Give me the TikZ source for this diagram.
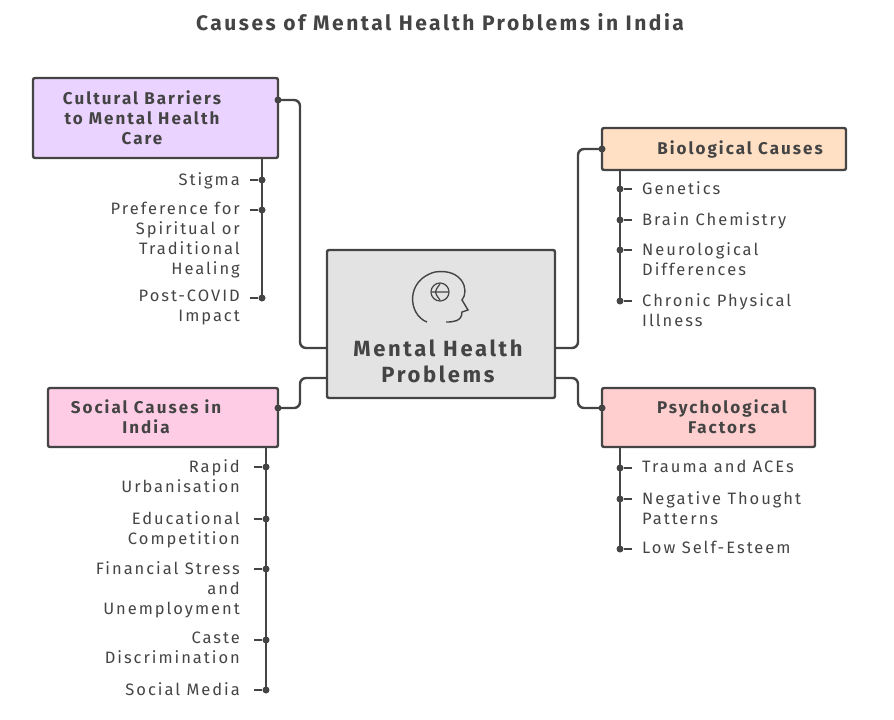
\documentclass[tikz,border=0pt]{standalone}
\usepackage{fontspec}
\setmainfont[LetterSpace=12]{Fira Sans}
\usetikzlibrary{positioning}

\definecolor{inkgray}{HTML}{444444}
\definecolor{centerfill}{HTML}{E3E3E3}
\definecolor{culturefill}{HTML}{EBD3FF}
\definecolor{biofill}{HTML}{FFE0C4}
\definecolor{socialfill}{HTML}{FFCCE6}
\definecolor{psychfill}{HTML}{FFCFCF}

\tikzset{
  catbox/.style={draw=inkgray, line width=2.4pt, rounded corners=2pt, align=center,
    font=\fontsize{17}{20}\selectfont\bfseries, text=inkgray},
  itemleft/.style={anchor=east, align=right, inner sep=0pt, font=\fontsize{16.5}{20}\selectfont, text=inkgray},
  itemright/.style={anchor=west, align=left, inner sep=0pt, font=\fontsize{16.5}{20}\selectfont, text=inkgray},
  link/.style={draw=inkgray, line width=2.4pt, rounded corners=6pt},
  stem/.style={draw=inkgray, line width=2pt},
  dot/.style={circle, fill=inkgray, inner sep=0pt, minimum size=7pt},
}

\begin{document}
\begin{tikzpicture}[x=1pt, y=-1pt]
\useasboundingbox (0,0) rectangle (894,720);

% title
\node[font=\fontsize{21}{24}\selectfont\bfseries, text=inkgray] (title) at (440,22)
  {Causes of Mental Health Problems in India};

% centre
\draw[catbox, fill=centerfill] (327,250) rectangle (555,398);
\node[catbox, draw=none, font=\fontsize{22}{26}\selectfont\bfseries] (center) at (438,361)
  {Mental Health\\Problems};
\draw[inkgray, line width=1.4pt] (427,322) .. controls (408,315) and (405,280) .. (435,272)
  .. controls (462,268) and (470,290) .. (462,300) -- (468,310) -- (462,312)
  .. controls (462,322) and (452,322) .. (446,322);
\draw[inkgray, line width=1.2pt] (440,292) circle (9);
\draw[inkgray, line width=1.2pt] (432,292) -- (448,292) (440,284) .. controls (434,292) .. (440,300);

% cultural barriers
\draw[catbox, fill=culturefill] (33,78) rectangle (278,158);
\node[catbox, draw=none] (culture) at (142,118) {Cultural Barriers\\to Mental Health\\Care};
\coordinate (cultureport) at (278,100);
\node[dot] at (cultureport) {};
\draw[link] (cultureport) -- (300,100) -- (300,348) -- (327,348);
\draw[stem] (262,158) -- (262,298);
\foreach \y/\txt [count=\i] in {180/Stigma, 210/Preference for\\Spiritual or\\Traditional\\Healing, 298/Post-COVID\\Impact}{
  \node[dot] (cdot\i) at (262,\y) {};
  \node[itemleft, anchor=north east] (citem\i) at (240,\y-8) {\txt};
  \draw[stem] (cdot\i) -- (250,\y);
}

% biological causes
\draw[catbox, fill=biofill] (602,128) rectangle (846,170);
\node[catbox, draw=none] (bio) at (740,149) {Biological Causes};
\coordinate (bioport) at (602,149);
\node[dot] at (bioport) {};
\draw[link] (bioport) -- (578,149) -- (578,348) -- (555,348);
\draw[stem] (620,170) -- (620,301);
\foreach \y/\txt [count=\i] in {189/Genetics, 220/Brain Chemistry, 250/Neurological\\Differences, 301/Chronic Physical\\Illness}{
  \node[dot] (bdot\i) at (620,\y) {};
  \node[itemright, anchor=north west] (bitem\i) at (642,\y-8) {\txt};
  \draw[stem] (bdot\i) -- (632,\y);
}

% social causes
\draw[catbox, fill=socialfill] (48,388) rectangle (278,447);
\node[catbox, draw=none] (social) at (146,417) {Social Causes in\\India};
\coordinate (socialport) at (278,408);
\node[dot] at (socialport) {};
\draw[link] (socialport) -- (300,408) -- (300,378) -- (327,378);
\draw[stem] (266,447) -- (266,690);
\foreach \y/\txt [count=\i] in {467/Rapid\\Urbanisation, 519/Educational\\Competition, 569/Financial Stress\\and\\Unemployment, 640/Caste\\Discrimination, 690/Social Media}{
  \node[dot] (sdot\i) at (266,\y) {};
  \node[itemleft, anchor=north east] (sitem\i) at (240,\y-8) {\txt};
  \draw[stem] (sdot\i) -- (254,\y);
}

% psychological factors
\draw[catbox, fill=psychfill] (602,388) rectangle (815,447);
\node[catbox, draw=none] (psych) at (722,417) {Psychological\\Factors};
\coordinate (psychport) at (602,408);
\node[dot] at (psychport) {};
\draw[link] (psychport) -- (578,408) -- (578,378) -- (555,378);
\draw[stem] (620,447) -- (620,549);
\foreach \y/\txt [count=\i] in {468/Trauma and ACEs, 499/Negative Thought\\Patterns, 549/Low Self-Esteem}{
  \node[dot] (pdot\i) at (620,\y) {};
  \node[itemright, anchor=north west] (pitem\i) at (642,\y-8) {\txt};
  \draw[stem] (pdot\i) -- (632,\y);
}
\end{tikzpicture}
\end{document}
